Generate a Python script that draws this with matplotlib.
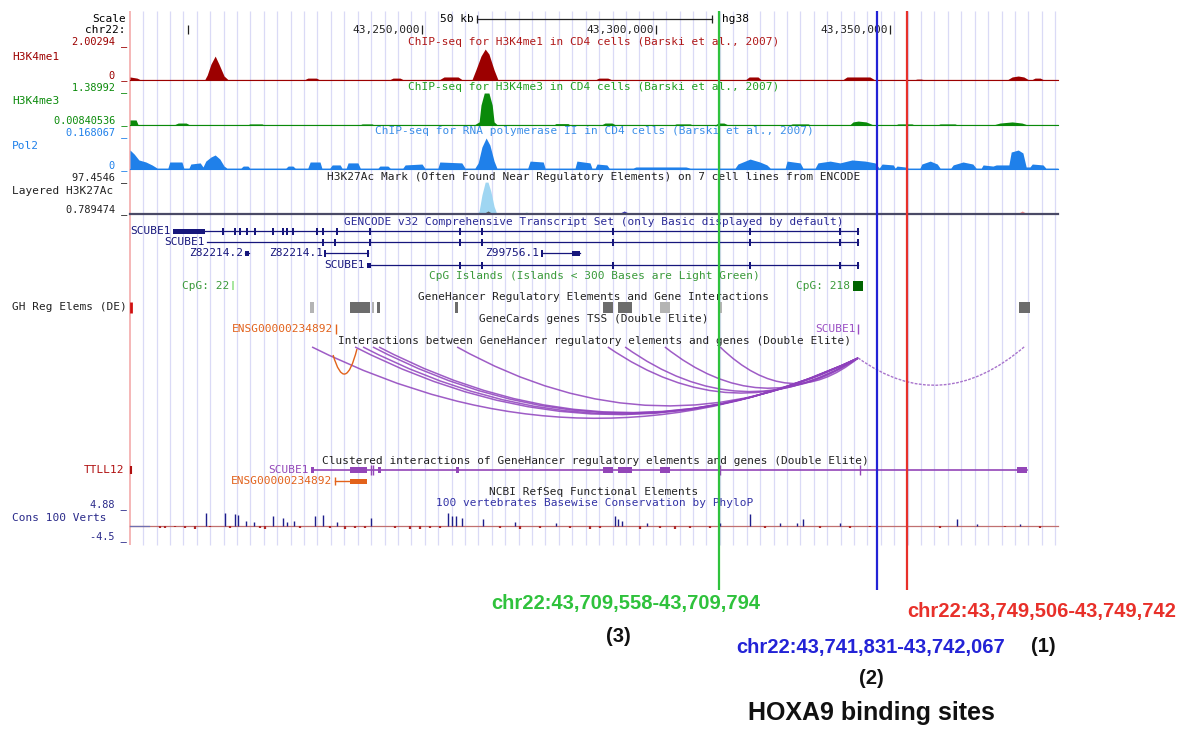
import numpy as np
import matplotlib
matplotlib.use("Agg")
import matplotlib.pyplot as plt
from matplotlib.path import Path
from matplotlib.patches import PathPatch, Rectangle
from matplotlib.transforms import blended_transform_factory

# browser window on chr22 (kb)
win_start, win_end = 43187.6, 43385.9
scale_ticks = [43200, 43250, 43300, 43350]
scale_bar = [43261.8, 43312.0]

# signal tracks, (position kb, value)
me1 = [(43187.6, .16), (43189.1, .10), (43189.7, .03), (43203.6, .03), (43204.1, .26), (43204.9, .84),
       (43205.8, 1.26), (43206.6, .84), (43207.7, .21), (43208.5, .03), (43225.0, .03), (43225.6, .10),
       (43227.4, .10), (43228.0, .03), (43243.2, .03), (43243.8, .10), (43245.3, .10), (43245.9, .03),
       (43253.8, .03), (43254.7, .16), (43257.7, .16), (43258.5, .03), (43260.7, .03), (43261.5, .53),
       (43262.6, 1.26), (43263.5, 1.63), (43264.3, 1.37), (43265.4, .53), (43266.2, .03), (43287.2, .03),
       (43287.8, .10), (43289.7, .10), (43290.4, .03), (43319.2, .03), (43319.9, .16), (43321.8, .16),
       (43322.4, .03), (43340.0, .03), (43340.8, .16), (43345.7, .16), (43346.6, .03), (43355.4, .03),
       (43355.8, .05), (43356.6, .05), (43357.1, .03), (43375.2, .03), (43376.1, .16), (43377.4, .21),
       (43378.6, .16), (43379.5, .03), (43380.4, .03), (43381.0, .10), (43382.1, .10), (43382.7, .03),
       (43385.9, .03)]

me3 = [(43187.6, .18), (43188.9, .18), (43189.3, .02), (43197.2, .02), (43197.9, .07), (43199.6, .07),
       (43200.2, .02), (43212.9, .02), (43213.2, .04), (43215.8, .04), (43216.1, .02), (43236.9, .02),
       (43237.2, .04), (43239.3, .04), (43239.6, .02), (43261.3, .02), (43262.2, .11), (43262.6, .71),
       (43263.3, 1.14), (43264.3, 1.14), (43265.0, .71), (43265.4, .11), (43266.0, .02), (43278.3, .02),
       (43278.6, .05), (43281.2, .05), (43281.5, .02), (43288.5, .02), (43289.1, .07), (43290.6, .07),
       (43291.2, .02), (43304.0, .02), (43304.3, .04), (43307.3, .04), (43307.6, .02), (43312.8, .02),
       (43313.3, .07), (43314.5, .07), (43315.2, .02), (43328.8, .02), (43329.1, .04), (43332.5, .04),
       (43332.8, .02), (43341.5, .02), (43342.1, .11), (43343.2, .14), (43344.9, .11), (43346.2, .02),
       (43351.4, .02), (43351.7, .04), (43354.7, .04), (43355.0, .02), (43360.4, .02), (43360.7, .04),
       (43363.9, .04), (43364.2, .02), (43372.4, .02), (43373.5, .07), (43376.1, .11), (43378.2, .07),
       (43379.1, .02), (43385.9, .02)]

pol2 = [(43187.6, .084), (43188.5, .066), (43189.5, .040), (43191.0, .031), (43192.3, .018), (43193.4, .004),
        (43195.7, .004), (43196.1, .031), (43198.7, .031), (43199.1, .004), (43200.2, .004), (43200.6, .022),
        (43202.6, .027), (43203.2, .009), (43203.8, .035), (43204.9, .053), (43205.8, .062), (43206.8, .044),
        (43207.7, .013), (43208.3, .004), (43211.3, .004), (43211.8, .013), (43212.8, .013), (43213.2, .004),
        (43220.9, .004), (43221.4, .013), (43222.4, .013), (43222.9, .004), (43225.6, .004), (43226.1, .031),
        (43228.2, .031), (43228.6, .004), (43230.3, .004), (43230.8, .018), (43232.5, .018), (43232.9, .004),
        (43233.8, .004), (43234.2, .027), (43236.3, .027), (43236.8, .004), (43240.6, .004), (43241.0, .013),
        (43242.7, .013), (43243.2, .004), (43245.9, .004), (43246.4, .018), (43250.0, .022), (43250.6, .004),
        (43253.4, .004), (43253.8, .031), (43258.5, .027), (43259.2, .004), (43261.3, .004), (43262.0, .027),
        (43262.8, .097), (43263.7, .137), (43264.5, .106), (43265.4, .035), (43266.0, .004), (43272.6, .004),
        (43273.1, .035), (43275.9, .031), (43276.3, .004), (43282.7, .004), (43283.1, .035), (43285.9, .027),
        (43286.3, .004), (43287.0, .004), (43287.4, .022), (43289.5, .018), (43290.0, .004), (43295.1, .004),
        (43295.7, .009), (43298.7, .009), (43302.6, .009), (43306.4, .009), (43307.3, .004), (43316.9, .004),
        (43317.5, .022), (43320.1, .044), (43322.2, .031), (43323.7, .018), (43324.4, .004), (43327.6, .004),
        (43328.0, .035), (43330.8, .027), (43331.4, .004), (43334.0, .004), (43334.6, .027), (43337.2, .035),
        (43339.3, .027), (43341.9, .040), (43344.7, .035), (43346.8, .027), (43347.7, .004), (43348.3, .022),
        (43350.7, .018), (43351.1, .004), (43351.5, .013), (43353.2, .009), (43353.9, .004), (43356.4, .004),
        (43356.8, .022), (43358.6, .035), (43360.1, .022), (43360.7, .004), (43363.0, .004), (43363.5, .018),
        (43365.6, .031), (43367.7, .022), (43368.4, .004), (43369.5, .004), (43369.9, .018), (43372.0, .013),
        (43372.7, .018), (43375.4, .018), (43375.9, .075), (43377.4, .084), (43378.4, .071), (43379.1, .009),
        (43379.9, .009), (43380.4, .022), (43382.7, .018), (43383.3, .004), (43385.9, .004)]

k27_peak = [(43261.8, 0), (43262.2, 8), (43262.8, 50), (43263.5, 84), (43264.1, 84), (43264.7, 60),
            (43265.4, 20), (43266.0, 0)]
k27_bumps = [(43263.0, 43265.2, 8), (43270.9, 43273.7, 5), (43291.9, 43294.5, 8),
             (43300.4, 43303.0, 5), (43377.2, 43379.3, 8)]
k27_cols = ['#5a5a5a', '#86dcc4', '#3c3cb4', '#86dcc4', '#f28c8c']

# GENCODE v32
scube1_a_block = (43196.8, 43203.6)
scube1_a_exons = [43207.5, 43210.0, 43211.1, 43212.6, 43214.3, 43218.2, 43220.3, 43221.2, 43222.4,
                  43227.6, 43228.8, 43231.8, 43238.9, 43258.1, 43262.8, 43290.8, 43320.1, 43339.3, 43343.2]
scube1_b_start = 43204.1
scube1_b_exons = [43228.8, 43231.4, 43238.9, 43258.1, 43262.8, 43290.8, 43320.1, 43339.3, 43343.2]
scube1_c_block = (43238.2, 43239.1)
scube1_c_exons = [43258.1, 43262.8, 43290.8, 43320.1, 43339.3, 43343.2]
z82214_2 = (43212.2, 43213.1)
z82214_1 = (43229.3, 43238.5)
z99756_1 = (43275.6, 43282.1, 43283.8)

cpg_22 = (43209.5, 43209.9)
cpg_218 = (43342.1, 43344.2)

gh_elems = [(43226.1, 43226.9), (43234.6, 43238.9), (43239.3, 43239.7), (43240.4, 43241.0),
            (43257.1, 43257.7), (43288.7, 43290.8), (43291.9, 43294.9), (43300.9, 43303.0),
            (43313.3, 43314.1), (43377.6, 43379.9)]
gh_dark = [False, True, False, True, True, True, True, False, False, True]
tss_ensg, tss_scube1 = 43231.6, 43343.2

arc_from = [43226.5, 43235.7, 43237.4, 43239.5, 43240.8, 43257.5, 43289.7, 43293.4, 43301.9, 43313.7]
arc_to = 43343.2
arc_right = (43343.2, 43378.9)
arc_orange = (43231.0, 43236.1)

clu_span = (43226.5, 43379.3)
clu_blocks = [(43226.3, 43227.0), (43234.6, 43238.2), (43240.7, 43241.3), (43257.2, 43257.9),
              (43288.7, 43290.8), (43291.9, 43294.9), (43300.9, 43303.0), (43377.2, 43379.3)]
clu_ticks = [43239.1, 43239.6, 43313.7, 43343.6]
ensg_line = (43231.4, 43234.6, 43238.2)

cons = [(43203.8, 3.0), (43207.9, 3.0), (43210.0, 2.8), (43210.7, 2.6), (43212.4, 1.2), (43214.1, 0.9),
        (43218.2, 2.3), (43220.3, 1.9), (43221.2, 0.9), (43222.7, 1.2), (43227.1, 2.3), (43228.8, 2.6),
        (43231.8, 0.9), (43239.1, 1.9), (43255.6, 3.0), (43256.4, 2.3), (43257.3, 2.3), (43258.5, 1.9),
        (43263.0, 1.6), (43269.9, 0.9), (43278.6, 0.7), (43291.2, 2.3), (43291.9, 1.6), (43292.7, 1.2),
        (43298.1, 0.7), (43313.7, 0.7), (43320.1, 2.8), (43326.5, 0.7), (43330.1, 0.7), (43331.4, 1.6),
        (43339.3, 0.7), (43364.3, 1.6), (43368.6, 0.5), (43377.8, 0.5),
        (43194.0, -0.4), (43195.1, -0.5), (43197.2, -0.3), (43199.4, -0.4), (43201.5, -0.6), (43204.7, -0.3),
        (43209.0, -0.5), (43215.4, -0.4), (43216.4, -0.6), (43223.9, -0.5), (43230.3, -0.4), (43233.5, -0.6),
        (43235.7, -0.5), (43237.8, -0.4), (43244.2, -0.5), (43247.4, -0.7), (43249.6, -0.6), (43251.7, -0.5),
        (43253.8, -0.4), (43266.7, -0.5), (43270.9, -0.6), (43275.2, -0.4), (43281.6, -0.5), (43285.9, -0.6),
        (43288.0, -0.5), (43296.6, -0.6), (43300.9, -0.4), (43304.1, -0.7), (43307.3, -0.5), (43311.5, -0.4),
        (43323.3, -0.4), (43335.1, -0.5), (43341.5, -0.4), (43345.7, -0.3), (43360.7, -0.4), (43374.6, -0.3),
        (43382.1, -0.4)]

# HOXA9 binding sites
sites_kb = [43353.6, 43347.2, 43313.5]
sites_txt = ['chr22:43,749,506-43,749,742', 'chr22:43,741,831-43,742,067', 'chr22:43,709,558-43,709,794']
sites_num = ['(1)', '(2)', '(3)']
sites_col = ['#e8302a', '#2323d6', '#2fc23c']

# ---------------------------------------------------------------
W, H = 1186, 729
fig = plt.figure(figsize=(W / 100, H / 100), dpi=100)
ax = fig.add_axes([0, 0, 1, 1])
kpp = (win_end - win_start) / (1058 - 130)
ax.set_xlim(win_start - 130 * kpp, win_start + (W - 130) * kpp)
ax.set_ylim(H, 0)
ax.axis('off')
lt = blended_transform_factory(ax.transAxes, ax.transData)
MONO = 'DejaVu Sans Mono'

C_ME1, C_ME3, C_POL = '#9c0000', '#0a8a0a', '#1f80ea'
C_NAVY, C_CPG, C_OR, C_PU = '#16167c', '#3a9a3a', '#e2621b', '#9a4fc4'


def lab(x, y, s, **kw):
    kw.setdefault('fontsize', 8)
    kw.setdefault('family', MONO)
    kw.setdefault('va', 'center')
    ax.text(x / W, y, s, transform=lt, **kw)


def vlab(y, s, col):
    # value labels next to the track edges
    lab(127, y, s, ha='right', color=col, fontsize=7.4)


def ktxt(k, y, s, **kw):
    kw.setdefault('fontsize', 8)
    kw.setdefault('family', MONO)
    kw.setdefault('va', 'center')
    ax.text(k, y, s, **kw)


# guide lines and left border
grid_k = np.linspace(43190.4, 43385.3, 69)
ax.vlines(grid_k, 11, 545, color='#dadaf6', lw=0.9, zorder=0)
ax.vlines(win_start, 11, 545, color='#f4aaaa', lw=1.2, zorder=1)

# scale / ruler
lab(126, 19, 'Scale', ha='right')
lab(126, 30, 'chr22:', ha='right')
lab(440, 19, '50 kb', ha='left')
ax.plot(scale_bar, [19, 19], color='#222', lw=0.9)
ax.vlines(scale_bar, 15, 23, color='#222', lw=0.9)
lab(722, 19, 'hg38', ha='left')
for t in scale_ticks:
    ax.vlines(t, 25, 34, color='#222', lw=0.9)
    if t > 43220:
        ktxt(t - 0.4, 30, f'{t * 1000:,}', ha='right', color='#222')


def signal(pts, base, top, vmax, col):
    k, v = np.array(pts).T
    ax.fill_between(k, base, base - v / vmax * (base - top), color=col, lw=0)
    ax.plot([win_start, win_end], [base, base], color=col, lw=0.8)


signal(me1, 80, 42, 2.00294, C_ME1)
lab(594, 42, 'ChIP-seq for H3K4me1 in CD4 cells (Barski et al., 2007)', ha='center', color='#b01818')
vlab(42, '2.00294 _', C_ME1)
lab(12, 57, 'H3K4me1', ha='left', color=C_ME1)
vlab(76, '0 _', C_ME1)

signal(me3, 125, 86, 1.38992, C_ME3)
lab(594, 87, 'ChIP-seq for H3K4me3 in CD4 cells (Barski et al., 2007)', ha='center', color='#22a022')
vlab(88, '1.38992 _', C_ME3)
lab(12, 101, 'H3K4me3', ha='left', color=C_ME3)
vlab(121, '0.00840536 _', C_ME3)

signal(pol2, 169, 131, 0.168067, C_POL)
lab(594, 131, 'ChIP-seq for RNA polymerase II in CD4 cells (Barski et al., 2007)', ha='center', color='#3b8ee8')
vlab(133, '0.168067 _', C_POL)
lab(12, 146, 'Pol2', ha='left', color=C_POL)
vlab(166, '0 _', C_POL)

# layered H3K27Ac
kk, kv = np.array(k27_peak).T
ax.fill_between(kk, 214, 214 - kv / 97.4546 * 37, color='#9fd6f2', lw=0)
for (b0, b1, v), c in zip(k27_bumps, k27_cols):
    ax.fill_between([b0, (b0 + b1) / 2, b1], 214, [214, 214 - v / 97.4546 * 37, 214], color=c, lw=0)
ax.plot([win_start, win_end], [214, 214], color='#4a4a66', lw=1.6)
lab(594, 177, 'H3K27Ac Mark (Often Found Near Regulatory Elements) on 7 cell lines from ENCODE',
    ha='center', color='#222')
vlab(178, '97.4546 _', '#222')
lab(12, 191, 'Layered H3K27Ac', ha='left', color='#222')
vlab(210, '0.789474 _', '#222')

# GENCODE
lab(594, 222, 'GENCODE v32 Comprehensive Transcript Set (only Basic displayed by default)',
    ha='center', color='#2a2a96')


def tx(y, start, end, exons, col=C_NAVY, blocks=(), label=None, lstart=None):
    ax.plot([start, end], [y, y], color=col, lw=0.9)
    for e in exons:
        ax.add_patch(Rectangle((e - 0.2, y - 3.5), 0.4, 7, color=col, lw=0))
    for b0, b1 in blocks:
        ax.add_patch(Rectangle((b0, y - 2.5), b1 - b0, 5, color=col, lw=0))
    if label:
        ktxt((lstart if lstart is not None else start) - 0.5, y, label, ha='right', color=col)


tx(231, scube1_a_block[1], arc_to, scube1_a_exons, blocks=[scube1_a_block], label='SCUBE1',
   lstart=scube1_a_block[0])
tx(242, scube1_b_start, arc_to, scube1_b_exons, label='SCUBE1')
tx(265, scube1_c_block[1], arc_to, scube1_c_exons, blocks=[scube1_c_block], label='SCUBE1',
   lstart=scube1_c_block[0])
tx(253, z82214_2[0], z82214_2[1], [], blocks=[z82214_2], label='Z82214.2')
tx(253, z82214_1[0], z82214_1[1], [z82214_1[0], z82214_1[1]], label='Z82214.1')
tx(253, z99756_1[0], z99756_1[2], [z99756_1[0]], blocks=[(z99756_1[1], z99756_1[2])], label='Z99756.1')

# CpG islands
lab(594, 276, 'CpG Islands (Islands < 300 Bases are Light Green)', ha='center', color=C_CPG)
ax.add_patch(Rectangle((cpg_22[0], 281), cpg_22[1] - cpg_22[0], 9, color='#a8e6a0', lw=0))
ktxt(cpg_22[0] - 0.6, 286, 'CpG: 22', ha='right', color=C_CPG)
ax.add_patch(Rectangle((cpg_218[0], 281), cpg_218[1] - cpg_218[0], 10, color='#006400', lw=0))
ktxt(cpg_218[0] - 0.6, 286, 'CpG: 218', ha='right', color=C_CPG)

# GeneHancer
lab(594, 297, 'GeneHancer Regulatory Elements and Gene Interactions', ha='center', color='#222')
lab(127, 307, 'GH Reg Elems (DE)', ha='right', color='#222')
ax.vlines(win_start + 0.2, 302, 313, color='#d01010', lw=2)
for (g0, g1), d in zip(gh_elems, gh_dark):
    ax.add_patch(Rectangle((g0, 302), g1 - g0, 11, color='#6c6c6c' if d else '#b4b4b4', lw=0))

lab(594, 319, 'GeneCards genes TSS (Double Elite)', ha='center', color='#222')
ktxt(tss_ensg - 0.6, 329, 'ENSG00000234892', ha='right', color=C_OR)
ax.vlines(tss_ensg, 324, 334, color=C_OR, lw=1)
ktxt(tss_scube1 - 0.6, 329, 'SCUBE1', ha='right', color=C_PU)
ax.vlines(tss_scube1, 324, 334, color=C_PU, lw=1)

lab(595, 341, 'Interactions between GeneHancer regulatory elements and genes (Double Elite)',
    ha='center', color='#222')


def arc(k1, k2, y1, y2, depth, **kw):
    ym = (y1 + y2) / 2 + 2 * depth
    p = Path([(k1, y1), ((k1 + k2) / 2, ym), (k2, y2)], [Path.MOVETO, Path.CURVE3, Path.CURVE3])
    ax.add_patch(PathPatch(p, fill=False, **kw))


for k in arc_from:
    arc(k, arc_to, 347, 358, 19 + 0.4 * (arc_to - k), color='#8e40bc', lw=1.1, alpha=0.85)
arc(arc_right[0], arc_right[1], 358, 346, 33, color='#a874cc', lw=1.0, ls=(0, (2, 1)))
arc(arc_orange[0], arc_orange[1], 355, 349, 22, color=C_OR, lw=1.0)

# clustered interactions
lab(595, 461, 'Clustered interactions of GeneHancer regulatory elements and genes (Double Elite)',
    ha='center', color='#222')
lab(124, 470, 'TTLL12', ha='right', color='#b01010')
ax.vlines(win_start + 0.2, 466, 474, color='#b01010', lw=1.5)
ax.plot(clu_span, [470, 470], color='#9346b8', lw=1.2)
for b0, b1 in clu_blocks:
    ax.add_patch(Rectangle((b0, 467), b1 - b0, 6, color='#9346b8', lw=0))
ax.vlines(clu_ticks, 465, 475, color='#9346b8', lw=1)
ktxt(clu_span[0] - 0.8, 470, 'SCUBE1', ha='right', color='#9346b8')
ax.plot(ensg_line[:2], [481, 481], color=C_OR, lw=1)
ax.add_patch(Rectangle((ensg_line[1], 478.5), ensg_line[2] - ensg_line[1], 5, color=C_OR, lw=0))
ax.vlines(ensg_line[0], 477, 485, color=C_OR, lw=1)
ktxt(ensg_line[0] - 0.6, 481, 'ENSG00000234892', ha='right', color=C_OR)

lab(594, 492, 'NCBI RefSeq Functional Elements', ha='center', color='#222')

# conservation
lab(595, 503, '100 vertebrates Basewise Conservation by PhyloP', ha='center', color='#3434a6')
vlab(505, '4.88 _', '#2a2a8a')
lab(12, 518, 'Cons 100 Verts', ha='left', color='#2a2a8a')
vlab(537, '-4.5 _', '#2a2a8a')
ax.plot([win_start, win_end], [526, 526], color='#c07070', lw=0.9)
ax.plot([win_start, win_start + 4], [526, 526], color='#7070b0', lw=0.9)
ck, cv = np.array(cons).T
ax.vlines(ck[cv > 0], 526, 526 - cv[cv > 0] * 4.3, color='#1e1e8c', lw=1.0)
ax.vlines(ck[cv < 0], 526, 526 - cv[cv < 0] * 4.3, color='#b02828', lw=1.6)

# binding-site markers and labels
for k, c in zip(sites_kb, sites_col):
    ax.vlines(k, 11, 590, color=c, lw=1.6, zorder=5)

BOLD = dict(family='Liberation Sans', weight='bold', fontsize=14.5)
lab(1042, 612, sites_txt[0], ha='center', color=sites_col[0], **BOLD)
lab(1043, 646, sites_num[0], ha='center', color='#111', **BOLD)
lab(871, 647, sites_txt[1], ha='center', color=sites_col[1], **BOLD)
lab(871, 679, sites_num[1], ha='center', color='#111', **BOLD)
lab(626, 603, sites_txt[2], ha='center', color=sites_col[2], **BOLD)
lab(618, 636, sites_num[2], ha='center', color='#111', **BOLD)
lab(871, 713, 'HOXA9 binding sites', ha='center', color='#111', family='Liberation Sans',
    weight='bold', fontsize=18)

fig.savefig('out.png', dpi=100)
